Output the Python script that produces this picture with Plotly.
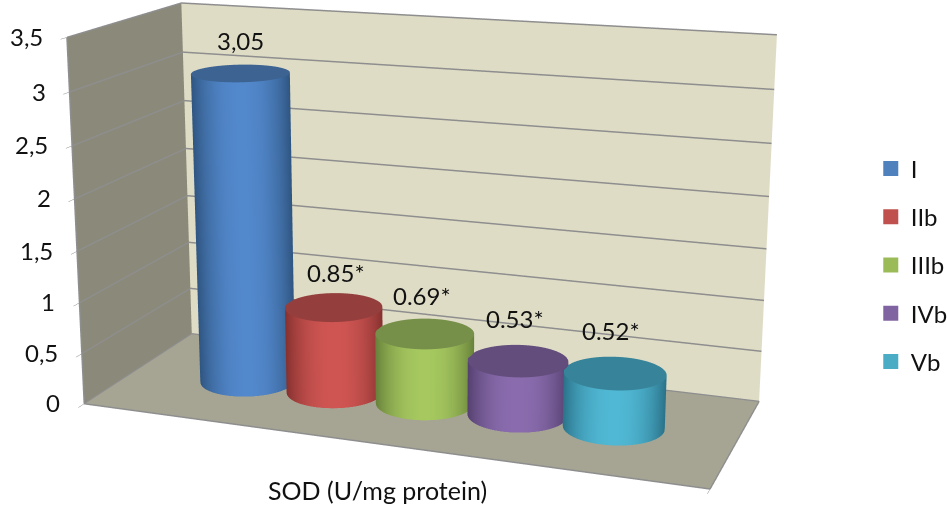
import numpy as np
import plotly.graph_objects as go

series = ["I", "IIb", "IIIb", "IVb", "Vb"]
values = [3.05, 0.85, 0.69, 0.53, 0.52]
labels = ["3,05", "0.85*", "0.69*", "0.53*", "0.52*"]
label_xshift = [0, 2, -3, -3, -4]
label_yshift = [33, 35, 38, 42, 43]
side_dark = ["#2f5580", "#84312f", "#66803a", "#54406e", "#2a7188"]
side_light = ["#5288cc", "#cf5552", "#a6c85f", "#8a6cae", "#50b8d4"]
cap_color = ["#3c6391", "#943f3d", "#76904a", "#624d7c", "#37849a"]
legend_color = ["#4f81bd", "#c0504d", "#9bbb59", "#8064a2", "#4bacc6"]
z_ticks = [0, 0.5, 1, 1.5, 2, 2.5, 3, 3.5]
z_tick_text = ["0", "0,5", "1", "1,5", "2", "2,5", "3", "3,5"]
xaxis_range = [0, 6.6]
centres = [1.30, 2.317, 3.334, 4.345, 5.36]
WORLD_R = 0.124

E = (1.5596, -4.3148, 1.2131)
C = (-0.0726, -0.0370, -0.0038)
UP = (-0.0942, 0.2580, 1.0)
AX, AY, AZ = 1.6, 0.6084, 0.9373
FOCAL, PPX, PPY = 1918.38, 389.23, 226.48

FIG_H = int(round(FOCAL * 2 * np.tan(np.pi / 8)))
FIG_W = 1520
OX = PPX - FIG_W / 2
OY = PPY - FIG_H / 2

fig = go.Figure()
xspan = xaxis_range[1] - xaxis_range[0]
rx = WORLD_R * xspan / AX
ry = WORLD_R / AY
yc = 0.5
theta = np.linspace(0, 2 * np.pi, 181)
flat = dict(ambient=1, diffuse=0, specular=0, roughness=1, fresnel=0)
for i, v in enumerate(values):
    tx = centres[i] + rx * np.cos(theta)
    ty = yc + ry * np.sin(theta)
    X = np.vstack([tx, tx]); Y = np.vstack([ty, ty]); Z = np.vstack([0 * theta, 0 * theta + v])
    wx = (centres[i] / xspan - 0.5) * AX
    phi = np.arctan2(E[1], E[0] - wx)
    S = 1 - np.abs(np.sin(theta - phi)) ** 2.2
    fig.add_trace(go.Surface(x=X, y=Y, z=Z, surfacecolor=np.vstack([S, S]), cmin=0, cmax=1,
                             colorscale=[[0, side_dark[i]], [1, side_light[i]]], showscale=False,
                             lighting=flat, hoverinfo="skip"))
    cx = np.vstack([0 * theta + centres[i], tx]); cy = np.vstack([0 * theta + yc, ty]); cz = 0 * cx + v
    fig.add_trace(go.Surface(x=cx, y=cy, z=cz, surfacecolor=0 * cx, cmin=0, cmax=1,
                             colorscale=[[0, cap_color[i]], [1, cap_color[i]]], showscale=False,
                             lighting=flat, hoverinfo="skip"))
    fig.add_trace(go.Scatter(x=[None], y=[None], mode="markers", name=series[i], legendgroup=series[i],
                             marker=dict(symbol="square", size=15, color=legend_color[i])))

FONT = "Lato"
def px(x): return (x - OX) / FIG_W
def py(y): return 1 - (y - OY) / FIG_H
annots = [dict(x=centres[i], y=yc, z=v, text=labels[i], showarrow=False, yshift=label_yshift[i], xshift=label_xshift[i],
               font=dict(family=FONT, size=24, color="#111")) for i, v in enumerate(values)]
annots += [dict(x=xaxis_range[0], y=0, z=t, text=s, showarrow=False, xanchor="right", xshift=-22, yshift=1,
                font=dict(family=FONT, size=24, color="#111")) for t, s in zip(z_ticks, z_tick_text)]
grid = "#8e8e8e"
fig.update_layout(
    width=FIG_W, height=FIG_H, margin=dict(l=0, r=0, t=0, b=0, autoexpand=False),
    paper_bgcolor="white", plot_bgcolor="white",
    font=dict(family=FONT, size=24, color="#111"),
    xaxis=dict(visible=False), yaxis=dict(visible=False),
    legend=dict(x=px(871), y=py(265), xanchor="left", yanchor="middle", tracegroupgap=14, font=dict(size=24), bgcolor="rgba(0,0,0,0)"),
    scene=dict(
        domain=dict(x=[0, 1], y=[0, 1]),
        aspectmode="manual", aspectratio=dict(x=AX, y=AY, z=AZ),
        camera=dict(eye=dict(x=E[0], y=E[1], z=E[2]), center=dict(x=C[0], y=C[1], z=C[2]),
                    up=dict(x=UP[0], y=UP[1], z=UP[2])),
        xaxis=dict(range=xaxis_range, showgrid=False, zeroline=False, showticklabels=False, title="",
                   showbackground=True, backgroundcolor="#8b8a7a", showline=True, linecolor=grid, linewidth=3,
                   tickvals=xaxis_range, ticks="outside", tickcolor=grid, ticklen=8, showspikes=False),
        yaxis=dict(range=[0, 1], showgrid=False, zeroline=False, showticklabels=False, title="",
                   showbackground=True, backgroundcolor="#dfdcc6", showline=True, linecolor=grid, linewidth=3,
                   ticks="", showspikes=False),
        zaxis=dict(range=[0, 3.5], tickvals=z_ticks, ticktext=z_tick_text, gridcolor=grid, gridwidth=3,
                   zeroline=False, title="", showbackground=True, backgroundcolor="#a6a594",
                   showline=True, linecolor=grid, linewidth=3, ticks="outside", tickcolor=grid, ticklen=8,
                   showticklabels=False, showspikes=False),
        annotations=annots,
    ),
    annotations=[dict(text="SOD (U/mg protein)", x=px(378), y=py(490), xref="paper", yref="paper", showarrow=False,
                      font=dict(family=FONT, size=25))],
)
post = ("document.documentElement.style.overflow='hidden';document.body.style.margin='0';document.body.style.overflow='hidden';"
        "var g=document.getElementById('{plot_id}');g.style.position='fixed';g.style.left='%dpx';g.style.top='%dpx';" % (round(OX), round(OY)))
fig.write_html("out.html", post_script=post)
